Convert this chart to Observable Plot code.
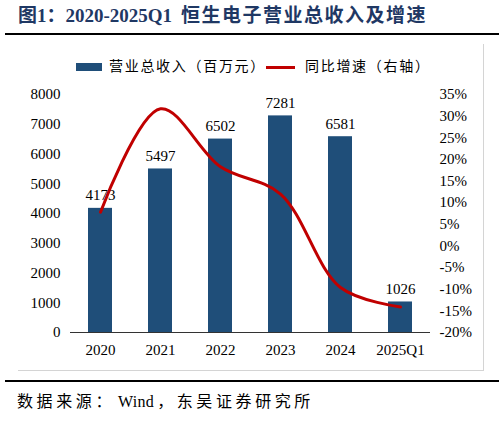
<!DOCTYPE html>
<html>
<head>
<meta charset="utf-8">
<script src="https://cdn.jsdelivr.net/npm/d3@7"></script>
<script src="https://cdn.jsdelivr.net/npm/@observablehq/plot@0.6"></script>
<style>
  html, body { margin: 0; padding: 0; background: #fff; }
  #wrap { position: relative; width: 504px; height: 427px; overflow: hidden; font-family: "Liberation Serif", "Noto Sans CJK SC", serif; }
  .abs { position: absolute; }
  #title { left: 18px; top: 5px; font-size: 19px; font-weight: bold; color: #1f3864; white-space: nowrap; line-height: 22px; }
  #title .cjk { letter-spacing: 1.5px; margin-left: 9px; }
  .rule { left: 5px; width: 494px; height: 2px; background: #000; }
  #box { left: 18px; top: 44px; width: 466px; height: 327px; border-right: 1px solid #d4d4d4; border-bottom: 1px solid #d4d4d4; box-sizing: border-box; }
  .leg { font-size: 14px; letter-spacing: 1.7px; line-height: 16px; white-space: nowrap; color: #000; }
  #source { left: 17px; top: 392px; font-size: 16px; letter-spacing: 3.6px; white-space: nowrap; color: #000; line-height: 20px; }
  #source .lat { letter-spacing: 0.3px; margin: 0 3px; }
  #chart { left: 0; top: 80px; }
</style>
</head>
<body>
<div id="wrap">
  <div id="title" class="abs">图1：2020-2025Q1<span class="cjk">恒生电子营业总收入及增速</span></div>
  <div class="abs rule" style="top:33px"></div>
  <div id="box" class="abs"></div>
  <div class="abs" style="left:76px;top:63px;width:26px;height:8px;background:#1f4e79"></div>
  <div class="abs leg" style="left:109px;top:59px">营业总收入（百万元）</div>
  <div class="abs" style="left:266px;top:65.5px;width:29px;height:3px;background:#c00000"></div>
  <div class="abs leg" style="left:305px;top:59px">同比增速（右轴）</div>
  <div id="chart" class="abs"></div>
  <div class="abs rule" style="top:380px"></div>
  <div id="source" class="abs">数据来源：<span class="lat">Wind</span>，东吴证券研究所</div>
</div>
<script>
const categories = ["2020", "2021", "2022", "2023", "2024", "2025Q1"];
const revenue = [4173, 5497, 6502, 7281, 6581, 1026];
const growth = [7.8, 31.7, 18.3, 12.0, -9.6, -14.1];
const leftTicks = [0, 1000, 2000, 3000, 4000, 5000, 6000, 7000, 8000];
const rightTicks = [-20, -15, -10, -5, 0, 5, 10, 15, 20, 25, 30, 35];

const leftMax = 8000, rMin = -20, rMax = 35;
const toLeft = g => (g - rMin) * leftMax / (rMax - rMin);
const toRight = v => v * (rMax - rMin) / leftMax + rMin;

const data = categories.map((c, i) => ({cat: c, rev: revenue[i], g: growth[i]}));

const chart = Plot.plot({
  width: 504,
  height: 290,
  marginTop: 14,
  marginBottom: 38,
  marginLeft: 70,
  marginRight: 74,
  style: {fontFamily: "'Liberation Serif', serif", fontSize: "15px", color: "#000", background: "transparent"},
  x: {type: "band", domain: categories, paddingInner: 0.6, paddingOuter: 0.3},
  y: {domain: [0, leftMax]},
  marks: [
    Plot.barY(data, {x: "cat", y: "rev", fill: "#1f4e79"}),
    Plot.text(data, {x: "cat", y: "rev", text: d => String(d.rev), lineAnchor: "bottom", dy: -8, fontSize: 15, fill: "#000"}),
    Plot.line(data, {x: "cat", y: d => toLeft(d.g), stroke: "#c00000", strokeWidth: 3, curve: "catmull-rom"}),
    Plot.ruleY([0], {stroke: "#333", strokeWidth: 1.2}),
    Plot.axisY(leftTicks, {anchor: "left", tickSize: 0, tickPadding: 10, label: null, tickFormat: d => String(d)}),
    Plot.axisY(rightTicks.map(toLeft), {anchor: "right", tickSize: 0, tickPadding: 9, label: null, tickFormat: d => Math.round(toRight(d)) + "%"}),
    Plot.axisX({tickSize: 0, tickPadding: 12, label: null})
  ]
});
document.getElementById("chart").appendChild(chart);
</script>
</body>
</html>
